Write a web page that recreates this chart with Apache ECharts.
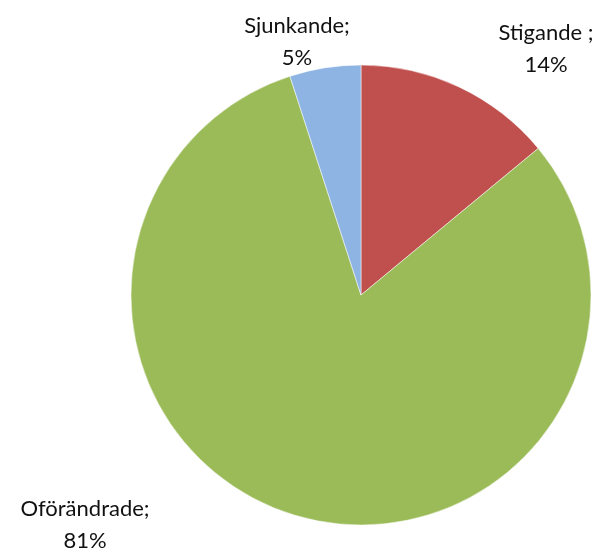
<!DOCTYPE html>
<html>
<head>
<meta charset="utf-8">
<script src="https://cdn.jsdelivr.net/npm/echarts@6/dist/echarts.min.js"></script>
<style>
  html, body { margin: 0; padding: 0; background: #fff; }
  #chart { width: 604px; height: 552px; }
</style>
</head>
<body>
<div id="chart"></div>
<script>
const categories = ['Stigande ', 'Oförändrade', 'Sjunkande'];
const values = [14, 81, 5];
const colors = ['#C0504D', '#9BBB59', '#8EB4E3'];

// where each label sits (centre of the two-line block)
const labelSpots = [
  { x: 546, y: 49 },
  { x: 85, y: 525 },
  { x: 297, y: 42 }
];

const chart = echarts.init(document.getElementById('chart'));

const option = {
  animation: false,
  textStyle: {
    fontFamily: 'Lato'
  },
  series: [{
    type: 'pie',
    center: [361, 295],
    radius: [0, 230],
    startAngle: 90,
    clockwise: true,
    data: categories.map((name, i) => ({
      name: name,
      value: values[i],
      itemStyle: { color: colors[i] }
    })),
    itemStyle: {
      borderColor: '#fff',
      borderWidth: 0.5
    },
    emphasis: { disabled: true },
    label: {
      show: true,
      position: 'outside',
      formatter: '{b};\n{d}%',
      fontFamily: 'Lato',
      fontSize: 22,
      lineHeight: 32,
      color: '#111',
      align: 'center',
      overflow: 'none',
      bleedMargin: 0
    },
    labelLine: { show: false },
    labelLayout: function(params) {
      const spot = labelSpots[params.dataIndex];
      return {
        x: spot.x,
        y: spot.y,
        align: 'center',
        verticalAlign: 'middle'
      };
    }
  }]
};

chart.setOption(option);
</script>
</body>
</html>
